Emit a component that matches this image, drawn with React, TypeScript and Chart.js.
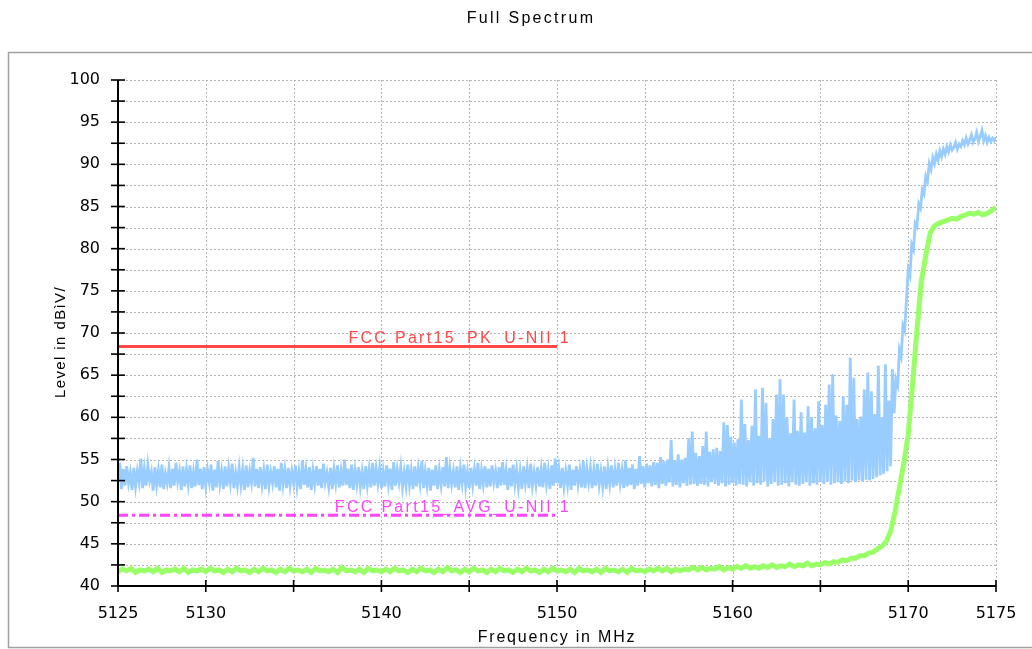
import React, { useEffect, useRef } from "react";
import { Chart, registerables } from "chart.js";

Chart.register(...registerables);

const TITLE = "Full Spectrum";
const X_TITLE = "Frequency in MHz";
const Y_TITLE = "Level in dBìV/";
const X_MIN = 5125;
const X_MAX = 5175;
const Y_MIN = 40;
const Y_MAX = 100;
const X_LABELED = [5125, 5130, 5140, 5150, 5160, 5170, 5175];

// Peak trace (light blue), one value every 0.1 MHz from 5125 MHz
const BLUE_START = 5125;
const BLUE_STEP = 0.1;
const BLUE_LEVEL = [
  52.4, 54.6, 51.5, 53.9, 51.9, 54.2, 52.2, 53.4, 51.4, 54.0,
  51.8, 53.6, 52.3, 55.1, 51.6, 53.8, 51.9, 54.3, 52.5, 53.5,
  51.3, 54.1, 52.0, 53.7, 51.7, 54.4, 51.5, 53.3, 52.2, 54.0,
  51.6, 53.9, 51.9, 54.6, 52.4, 53.6, 51.4, 54.2, 51.8, 53.8,
  52.1, 54.3, 51.6, 53.5, 51.8, 55.0, 52.0, 53.9, 51.5, 54.1,
  51.9, 53.7, 52.3, 54.4, 51.3, 53.8, 51.7, 54.8, 52.1, 53.6,
  51.5, 54.2, 51.8, 53.9, 52.2, 54.5, 51.6, 53.4, 51.9, 54.0,
  52.0, 53.8, 51.4, 54.3, 51.7, 53.6, 52.3, 55.2, 51.8, 53.9,
  51.6, 54.1, 52.0, 53.7, 51.5, 54.4, 51.9, 53.5, 52.2, 54.2,
  51.7, 53.9, 51.3, 54.6, 52.1, 53.8, 51.6, 54.0, 51.9, 53.6,
  52.2, 54.3, 51.8, 53.5, 51.5, 54.9, 52.0, 53.8, 51.7, 54.1,
  51.4, 53.7, 52.1, 54.2, 51.9, 53.9, 51.6, 54.5, 52.3, 53.4,
  51.8, 54.0, 51.5, 53.8, 52.2, 54.3, 51.7, 53.6, 51.9, 55.0,
  52.0, 53.9, 51.6, 54.4, 51.4, 53.7, 52.1, 54.1, 51.8, 53.5,
  51.5, 54.2, 52.0, 53.8, 51.7, 54.6, 51.9, 53.9, 52.2, 54.0,
  51.6, 53.6, 51.8, 54.3, 52.1, 53.9, 51.4, 54.7, 51.9, 53.8,
  52.3, 54.1, 51.7, 53.5, 51.9, 54.4, 52.0, 53.7, 51.5, 54.2,
  51.8, 53.9, 52.2, 54.8, 51.6, 53.6, 51.9, 54.0, 51.3, 53.8,
  51.9, 54.3, 51.5, 53.7, 52.0, 54.1, 51.8, 55.3, 51.6, 53.9,
  52.1, 53.6, 51.7, 54.2, 51.4, 53.9, 52.2, 54.4, 51.8, 53.5,
  51.6, 54.0, 52.0, 53.8, 51.9, 54.6, 51.5, 53.7, 52.1, 54.2,
  51.7, 53.9, 51.8, 54.3, 52.3, 53.6, 51.6, 54.1, 51.9, 54.7,
  52.0, 53.7, 51.4, 54.0, 51.8, 54.4, 52.1, 53.8, 51.7, 53.6,
  51.5, 54.2, 52.2, 53.9, 51.6, 54.5, 51.9, 53.5, 52.0, 54.1,
  51.8, 53.8, 51.7, 54.6, 52.1, 53.7, 51.5, 54.3, 51.9, 55.1,
  52.2, 53.9, 51.6, 54.0, 51.8, 53.6, 52.0, 54.4, 51.4, 53.8,
  51.9, 54.2, 52.1, 53.7, 51.7, 54.8, 51.6, 53.9, 52.3, 54.0,
  51.6, 53.8, 51.9, 54.5, 52.0, 53.6, 51.8, 54.2, 51.5, 53.9,
  52.1, 54.3, 51.7, 53.8, 51.9, 54.6, 52.2, 53.7, 51.6, 54.9,
  51.8, 54.0, 52.0, 54.4, 51.5, 53.9, 51.9, 55.4, 52.1, 54.2,
  51.7, 54.5, 52.2, 54.3, 51.8, 54.7, 52.0, 54.6, 51.6, 55.3,
  52.1, 54.8, 51.9, 55.0, 52.3, 57.3, 51.8, 54.9, 52.0, 55.6,
  51.7, 55.0, 52.2, 55.2, 51.9, 57.5, 52.0, 58.3, 52.1, 55.8,
  51.9, 55.4, 52.1, 56.6, 52.0, 58.3, 51.8, 55.9, 52.3, 56.2,
  52.1, 56.4, 51.9, 56.0, 52.2, 59.4, 51.8, 59.1, 52.0, 57.7,
  52.2, 57.0, 51.9, 57.4, 52.1, 62.1, 52.0, 59.2, 51.8, 57.3,
  52.3, 59.0, 51.9, 63.3, 52.2, 57.8, 52.0, 63.5, 52.4, 61.7,
  51.8, 57.5, 52.1, 59.8, 52.3, 62.7, 51.9, 64.5, 52.0, 62.7,
  52.2, 60.0, 51.8, 58.1, 52.3, 62.1, 52.0, 58.4, 51.9, 60.6,
  52.1, 58.2, 52.3, 61.3, 51.9, 60.0, 52.2, 58.7, 52.0, 61.9,
  52.3, 59.1, 52.1, 61.5, 52.4, 63.9, 52.0, 65.1, 52.2, 60.2,
  52.3, 59.6, 52.1, 62.5, 52.4, 61.5, 52.2, 67.1, 52.5, 64.7,
  52.3, 59.8, 52.5, 60.1, 52.4, 63.3, 52.6, 65.3, 52.5, 63.1,
  52.7, 60.4, 52.9, 66.1, 53.1, 60.0, 53.3, 66.3, 53.6, 62.0,
  54.2, 65.7, 60.5, 64.5, 63.8, 68.0, 67.2, 70.9, 70.3, 74.0,
  77.5, 76.8, 80.5, 79.9, 83.0, 82.6, 85.3, 84.8, 87.0, 86.5,
  88.6, 88.0, 90.1, 89.4, 90.8, 90.1, 91.2, 90.5, 91.6, 90.9,
  91.8, 91.2, 92.1, 91.5, 92.3, 91.7, 92.0, 92.6, 91.8, 92.4,
  92.1, 92.8, 92.3, 93.1, 92.4, 92.9, 93.5, 92.6, 93.0, 93.8,
  92.7, 93.3, 94.0, 92.8, 93.4, 92.6, 93.2, 92.7, 93.1, 92.8,
  93.2,
];

// Average trace (green), one value every 0.25 MHz from 5125 MHz
const GREEN_START = 5125;
const GREEN_STEP = 0.25;
const GREEN_LEVEL = [
  41.7, 42.0, 41.8, 42.1,
  41.6, 41.9, 41.8, 42.0,
  41.7, 42.1, 41.6, 41.9,
  41.8, 42.0, 41.7, 42.1,
  41.6, 41.9, 41.8, 42.0,
  41.7, 42.1, 41.8, 41.9,
  41.6, 42.0, 41.7, 42.1,
  41.8, 41.9, 41.6, 42.0,
  41.7, 42.1, 41.8, 41.9,
  41.6, 42.0, 41.7, 42.1,
  41.8, 41.9, 41.7, 42.0,
  41.6, 42.1, 41.8, 41.9,
  41.7, 42.0, 41.6, 42.2,
  41.8, 41.9, 41.7, 42.0,
  41.6, 42.1, 41.8, 41.9,
  41.7, 42.0, 41.7, 42.1,
  41.8, 41.9, 41.6, 42.0,
  41.7, 42.1, 41.8, 41.9,
  41.6, 42.0, 41.7, 42.2,
  41.8, 41.9, 41.6, 42.0,
  41.7, 42.1, 41.8, 41.9,
  41.6, 42.0, 41.7, 42.1,
  41.8, 41.9, 41.6, 42.0,
  41.7, 42.1, 41.8, 41.9,
  41.6, 42.0, 41.7, 42.1,
  41.8, 41.9, 41.7, 42.0,
  41.6, 42.1, 41.8, 41.9,
  41.7, 42.0, 41.6, 42.1,
  41.8, 41.9, 41.7, 42.0,
  41.6, 42.1, 41.8, 41.9,
  41.7, 42.0, 41.8, 42.1,
  41.8, 42.1, 41.7, 42.0,
  41.8, 42.0, 41.9, 42.2,
  41.9, 42.2, 41.9, 42.1,
  42.0, 42.3, 41.9, 42.2,
  42.0, 42.3, 42.1, 42.4,
  42.1, 42.3, 42.1, 42.4,
  42.2, 42.5, 42.2, 42.4,
  42.3, 42.6, 42.3, 42.5,
  42.4, 42.7, 42.4, 42.6,
  42.5, 42.8, 42.6, 42.9,
  42.8, 43.1, 43.0, 43.3,
  43.3, 43.6, 43.6, 43.9,
  44.0, 44.4, 44.7, 45.3,
  46.5, 48.8, 51.7, 54.6,
  57.9, 64.0, 70.4, 76.2,
  79.2, 81.9, 82.7, 83.0,
  83.2, 83.4, 83.6, 83.5,
  83.8, 84.0, 84.2, 84.1,
  84.3, 84.0, 84.2, 84.5,
  84.9,
];

// Limit lines
const LIMIT_FREQ = [5125, 5150];
const PK_LEVEL = [68.4, 68.4];
const AVG_LEVEL = [48.4, 48.4];
const PK_LABEL = "FCC Part15_PK_U-NII 1";
const AVG_LABEL = "FCC Part15_AVG_U-NII 1";

const TEXT_FONT = '"Liberation Sans", Arial, sans-serif';
const TICK_FONT = '"DejaVu Sans", sans-serif';

const decor = {
  id: "decor",
  beforeDraw(chart: any) {
    const ctx = chart.ctx;
    ctx.save();
    ctx.fillStyle = "#ffffff";
    ctx.fillRect(0, 0, chart.width, chart.height);
    ctx.strokeStyle = "#a0a0a0";
    ctx.lineWidth = 1.5;
    ctx.strokeRect(8.5, 52.5, chart.width, chart.height - 54);
    ctx.fillStyle = "#000";
    ctx.font = "16px " + TEXT_FONT;
    (ctx as any).letterSpacing = "2.3px";
    ctx.textAlign = "center";
    ctx.textBaseline = "alphabetic";
    ctx.fillText(TITLE, 531, 23);
    ctx.restore();
  },
  beforeDatasetsDraw(chart: any) {
    const { ctx, chartArea: a, scales } = chart;
    const x = scales.x;
    const y = scales.y;
    ctx.save();
    ctx.strokeStyle = "#b4b4b4";
    ctx.lineWidth = 1;
    ctx.setLineDash([2, 2]);
    y.ticks.forEach((t: any) => {
      if (t.value <= Y_MIN) return;
      const py = Math.round(y.getPixelForValue(t.value)) + 0.5;
      ctx.beginPath();
      ctx.moveTo(a.left, py);
      ctx.lineTo(a.right, py);
      ctx.stroke();
    });
    x.ticks.forEach((t: any) => {
      if (t.value <= X_MIN) return;
      const px = Math.round(x.getPixelForValue(t.value)) + 0.5;
      ctx.beginPath();
      ctx.moveTo(px, a.top);
      ctx.lineTo(px, a.bottom);
      ctx.stroke();
    });
    ctx.restore();
  },
  afterDraw(chart: any) {
    const { ctx, chartArea: a, scales } = chart;
    const x = scales.x;
    const y = scales.y;
    ctx.save();
    ctx.strokeStyle = "#000";
    ctx.lineWidth = 2;
    ctx.beginPath();
    ctx.moveTo(a.left, a.top);
    ctx.lineTo(a.left, a.bottom);
    ctx.lineTo(a.right, a.bottom);
    ctx.stroke();
    ctx.lineWidth = 1.6;
    y.ticks.forEach((t: any) => {
      const py = y.getPixelForValue(t.value);
      ctx.beginPath();
      ctx.moveTo(a.left - 7, py);
      ctx.lineTo(a.left + 7, py);
      ctx.stroke();
    });
    x.ticks.forEach((t: any) => {
      const px = x.getPixelForValue(t.value);
      ctx.beginPath();
      ctx.moveTo(px, a.bottom - 6);
      ctx.lineTo(px, a.bottom + 6);
      ctx.stroke();
    });
    // axis titles
    ctx.fillStyle = "#000";
    ctx.font = "16px " + TEXT_FONT;
    (ctx as any).letterSpacing = "1.8px";
    ctx.textAlign = "center";
    ctx.textBaseline = "alphabetic";
    ctx.fillText(X_TITLE, 557, 642);
    ctx.save();
    ctx.translate(65, 342);
    ctx.rotate(-Math.PI / 2);
    ctx.font = "15px " + TEXT_FONT;
    (ctx as any).letterSpacing = "1.4px";
    ctx.fillText(Y_TITLE, 0, 0);
    ctx.restore();
    // limit labels
    ctx.font = "16px " + TEXT_FONT;
    (ctx as any).letterSpacing = "2.3px";
    ctx.textAlign = "right";
    const lx = x.getPixelForValue(LIMIT_FREQ[1]) + 14;
    ctx.fillStyle = "#ff4848";
    ctx.fillText(PK_LABEL, lx, y.getPixelForValue(PK_LEVEL[1]) - 3);
    ctx.fillStyle = "#ff44ff";
    ctx.fillText(AVG_LABEL, lx, y.getPixelForValue(AVG_LEVEL[1]) - 3);
    ctx.restore();
  },
};

export default function App() {
  const ref = useRef<HTMLCanvasElement>(null);
  useEffect(() => {
    const blue = BLUE_LEVEL.map((v, i) => ({ x: BLUE_START + i * BLUE_STEP, y: v }));
    const green = GREEN_LEVEL.map((v, i) => ({ x: GREEN_START + i * GREEN_STEP, y: v }));
    const chart = new Chart(ref.current as HTMLCanvasElement, {
      type: "line",
      data: {
        datasets: [
          {
            label: "PK limit",
            data: LIMIT_FREQ.map((f, i) => ({ x: f, y: PK_LEVEL[i] })),
            borderColor: "#ff4848",
            borderWidth: 3,
            pointRadius: 0,
          },
          {
            label: "AVG limit",
            data: LIMIT_FREQ.map((f, i) => ({ x: f, y: AVG_LEVEL[i] })),
            borderColor: "#ff44ff",
            borderWidth: 3,
            borderDash: [10, 4, 3, 4],
            pointRadius: 0,
          },
          {
            label: "Peak",
            data: blue,
            borderColor: "#99ccff",
            borderWidth: 2.8,
            borderJoinStyle: "miter",
            pointRadius: 0,
          },
          {
            label: "Average",
            data: green,
            borderColor: "#99ff66",
            borderWidth: 5,
            pointRadius: 0,
          },
        ],
      } as any,
      options: {
        animation: false,
        responsive: false,
        devicePixelRatio: 1,
        layout: { padding: { left: 0, right: 36, top: 80, bottom: 0 } },
        plugins: {
          legend: { display: false },
          tooltip: { enabled: false },
          title: { display: false },
        },
        scales: {
          x: {
            type: "linear",
            min: X_MIN,
            max: X_MAX,
            afterFit: (s: any) => {
              s.height = 63;
            },
            grid: { display: false },
            border: { display: false },
            ticks: {
              stepSize: 5,
              autoSkip: false,
              maxRotation: 0,
              padding: 10,
              color: "#000",
              font: { family: TICK_FONT, size: 16 },
              callback: (v: any) => (X_LABELED.includes(Number(v)) ? String(v) : ""),
            },
          },
          y: {
            type: "linear",
            min: Y_MIN,
            max: Y_MAX,
            afterFit: (s: any) => {
              s.width = 118;
            },
            grid: { display: false },
            border: { display: false },
            ticks: {
              stepSize: 2.5,
              autoSkip: false,
              padding: 10,
              color: "#000",
              font: { family: TICK_FONT, size: 16 },
              callback: (v: any) => (Number(v) % 5 === 0 ? String(v) : ""),
            },
          },
        },
      } as any,
      plugins: [decor],
    });
    return () => chart.destroy();
  }, []);
  return (
    <div style={{ position: "absolute", left: 0, top: 0, width: 1032, height: 649, background: "#fff" }}>
      <canvas ref={ref} width={1032} height={649} style={{ display: "block" }} />
    </div>
  );
}
